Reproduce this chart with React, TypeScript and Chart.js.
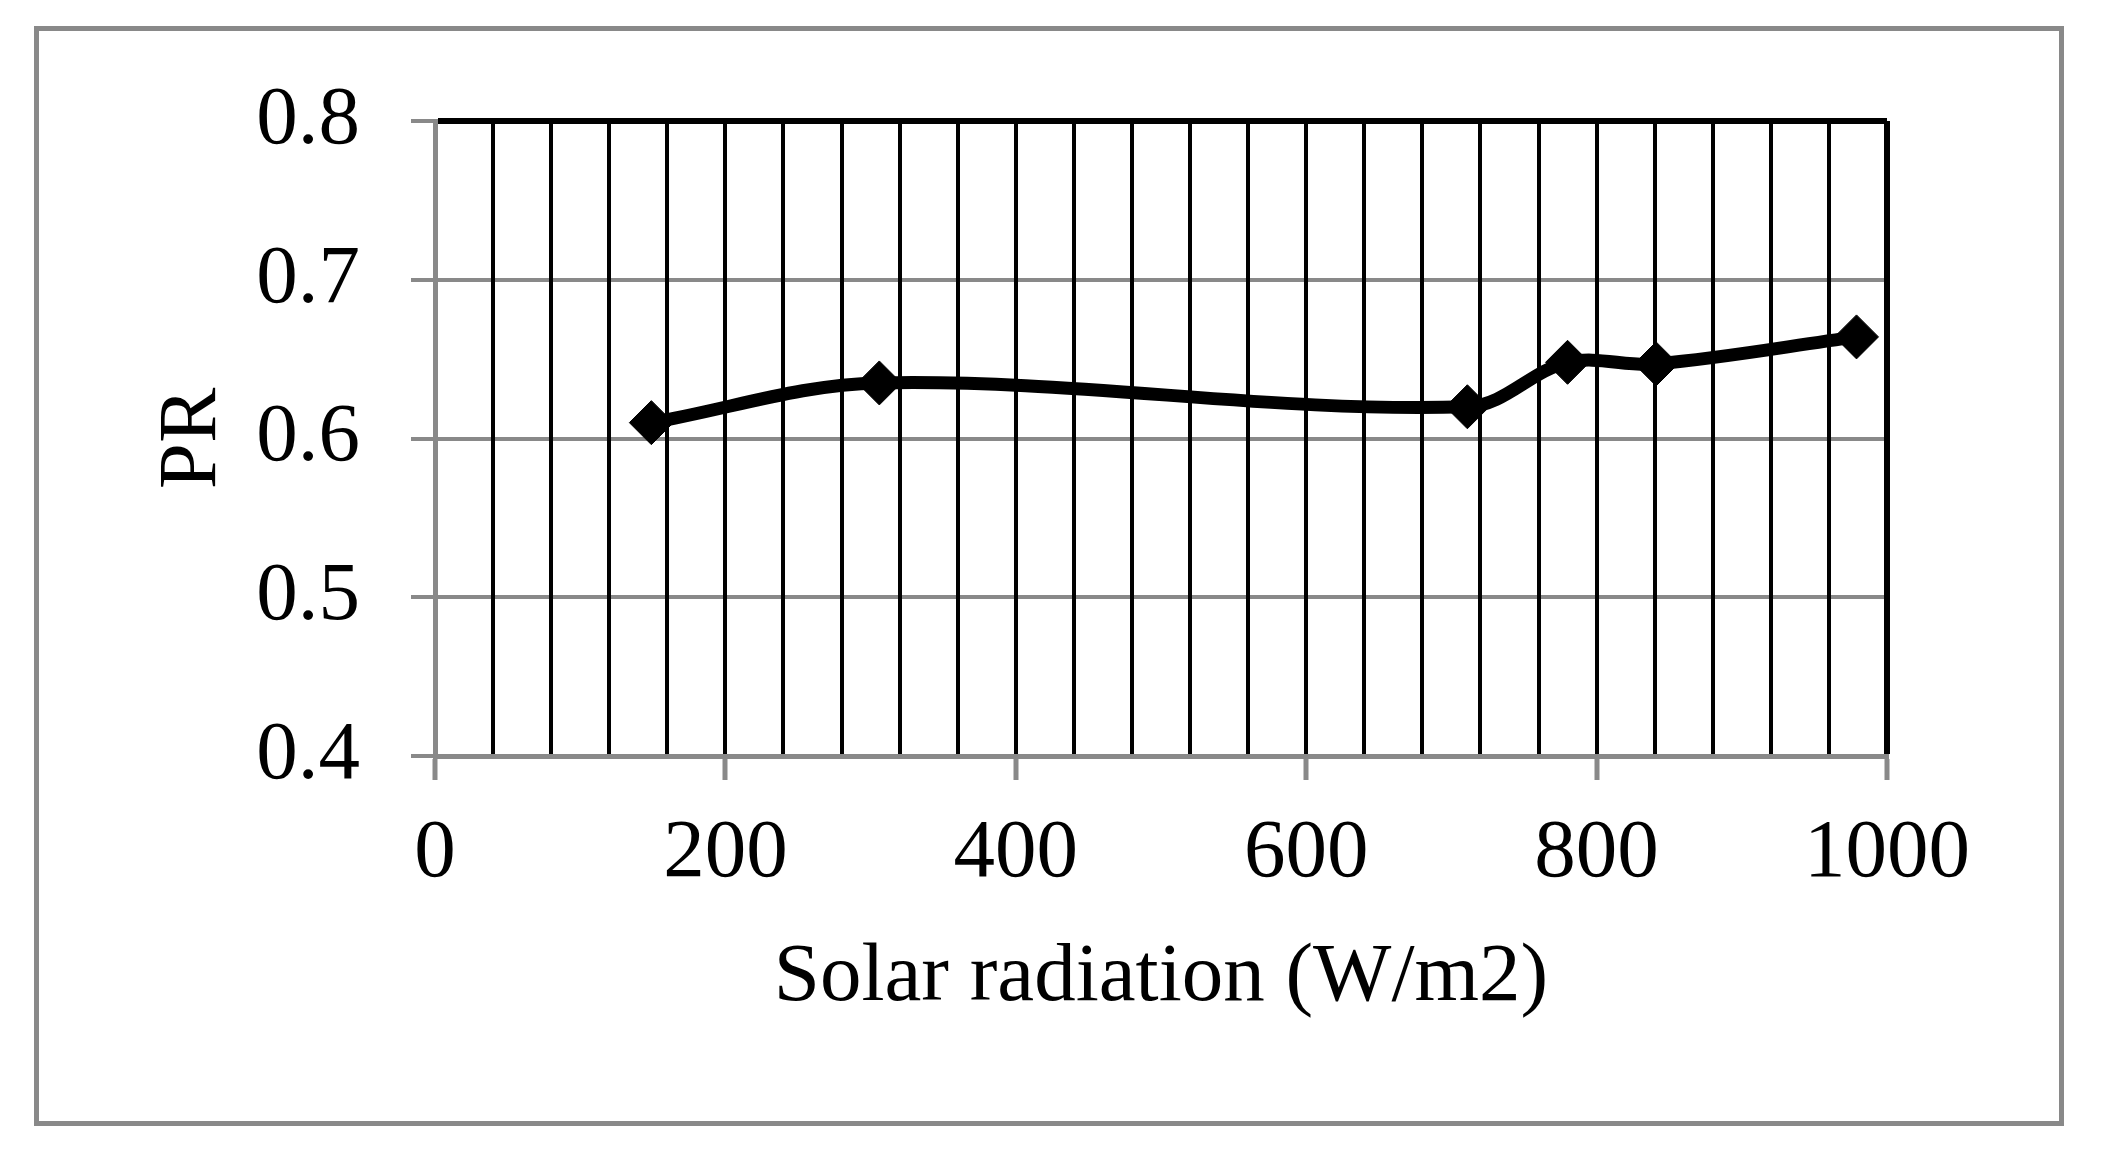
import React, { useEffect, useRef } from "react";
import { Chart, registerables } from "chart.js";

Chart.register(...registerables);

// values
const radiation = [149, 306, 711, 780, 841, 979];
const prValues = [0.61, 0.635, 0.62, 0.648, 0.647, 0.664];

const xTitle = "Solar radiation (W/m2)";
const yTitle = "PR";

const GRAY = "#898989";
const FONT = "'Liberation Serif', 'Times New Roman', serif";

const App = () => {
  const chartRef: any = useRef(null);
  const chartInstance: any = useRef(null);

  useEffect(() => {
    document.body.style.margin = "0";
    document.body.style.background = "#fff";

    if (chartRef.current) {
      const ctx = chartRef.current.getContext("2d");

      chartInstance.current = new Chart(ctx, {
        type: "line",
        data: {
          datasets: [
            {
              label: yTitle,
              data: radiation.map((x, i) => ({ x, y: prValues[i] })),
              borderColor: "#000",
              borderWidth: 13,
              tension: 0.35,
              fill: false,
              pointStyle: "rectRot",
              pointRadius: 22,
              pointBackgroundColor: "#000",
              pointBorderColor: "#000",
              pointBorderWidth: 1,
            },
          ],
        },
        options: {
          responsive: false,
          animation: false,
          layout: { padding: { top: 121, right: 215, bottom: 0, left: 0 } },
          plugins: {
            legend: { display: false },
            tooltip: { enabled: false },
          },
          scales: {
            y: {
              type: "linear",
              min: 0.4,
              max: 0.8,
              afterFit: (scale: any) => {
                scale.width = 435;
              },
              ticks: {
                stepSize: 0.1,
                padding: 51,
                color: "#000",
                font: { family: FONT, size: 83 },
                callback: (v: any) => Number(v).toFixed(1),
              },
              grid: {
                z: -2,
                color: (c: any) =>
                  c.tick && Math.abs(c.tick.value - 0.8) < 1e-6 ? "#000" : GRAY,
                lineWidth: (c: any) =>
                  c.tick && Math.abs(c.tick.value - 0.8) < 1e-6 ? 6 : 4,
                tickColor: GRAY,
                tickLength: 24,
                tickWidth: 4,
              },
              border: { color: GRAY, width: 5 },
              title: {
                display: true,
                text: yTitle,
                color: "#000",
                font: { family: FONT, size: 83 },
                padding: { top: 143, bottom: 0 },
              },
            },
            x: {
              type: "linear",
              min: 0,
              max: 1000,
              afterFit: (scale: any) => {
                scale.height = 1159 - 756;
              },
              ticks: {
                stepSize: 40,
                autoSkip: false,
                maxRotation: 0,
                minRotation: 0,
                padding: 24,
                color: "#000",
                font: { family: FONT, size: 83 },
                callback: (v: any) => (Number(v) % 200 === 0 ? String(v) : ""),
              },
              grid: {
                z: -1,
                color: "#000",
                lineWidth: (c: any) => (c.tick && c.tick.value === 1000 ? 6 : 4),
                tickColor: (c: any) =>
                  c.tick && c.tick.value % 200 === 0 ? GRAY : "rgba(0,0,0,0)",
                tickLength: 24,
                tickWidth: 5,
              },
              border: { color: GRAY, width: 5 },
              title: {
                display: true,
                text: xTitle,
                color: "#000",
                font: { family: FONT, size: 83 },
                padding: { top: 0, bottom: 131 },
              },
            },
          },
        },
      });
    }

    return () => {
      if (chartInstance.current) {
        chartInstance.current.destroy();
      }
    };
  }, []);

  return (
    <div style={{ position: "relative", width: 2102, height: 1159, background: "#fff" }}>
      <canvas ref={chartRef} width={2102} height={1159} style={{ display: "block" }}></canvas>
      <div
        style={{
          position: "absolute",
          left: 34,
          top: 26,
          width: 2030,
          height: 1100,
          border: `5px solid ${GRAY}`,
          boxSizing: "border-box",
          pointerEvents: "none",
        }}
      ></div>
    </div>
  );
};

export default App;
